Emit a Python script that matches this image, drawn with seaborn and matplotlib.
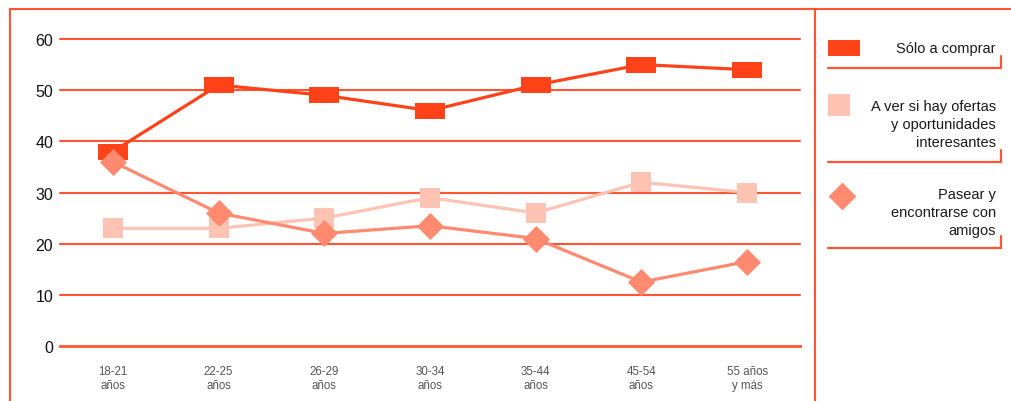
import matplotlib
matplotlib.use("Agg")
import matplotlib.pyplot as plt
import numpy as np
import pandas as pd
import seaborn as sns

# Age groups (two-line labels) and the share (%) giving each reason for the visit
age_groups = ["18-21\naños", "22-25\naños", "26-29\naños", "30-34\naños",
              "35-44\naños", "45-54\naños", "55 años\ny más"]
solo_comprar = [38, 51, 49, 46, 51, 55, 54]
ver_ofertas = [23, 23, 25, 29, 26, 32, 30]
pasear_amigos = [36, 26, 22, 23.5, 21, 12.5, 16.5]
series_names = ["Sólo a comprar",
                "A ver si hay ofertas\ny oportunidades\ninteresantes",
                "Pasear y\nencontrarse con\namigos"]
y_ticks = [0, 10, 20, 30, 40, 50, 60]

RED = "#FF5533"
C_SOLO = "#FF4218"
C_VER = "#FFC3B4"
C_PASEAR = "#FF8A70"

sns.set_style("white")
plt.rcParams["font.family"] = ["Liberation Sans", "DejaVu Sans"]

W, H = 1011, 402
fig = plt.figure(figsize=(W / 100, H / 100), dpi=100)
fig.patch.set_facecolor("white")

# main plotting area: x from 60 to 800 px, y=0 at 347 px, y=60 at 40 px
ax = fig.add_axes([60 / W, 1 - 347 / H, 740 / W, 307 / H])

df = pd.DataFrame({
    "grupo": np.arange(len(age_groups)),
    series_names[0]: solo_comprar,
    series_names[1]: ver_ofertas,
    series_names[2]: pasear_amigos,
})

rect_marker = [(-1, -0.53), (1, -0.53), (1, 0.53), (-1, 0.53), (-1, -0.53)]
diamond_marker = [(0, -1), (1, 0), (0, 1), (-1, 0), (0, -1)]

styles = [
    (series_names[0], C_SOLO, rect_marker, 21.5, 2.3, 3),
    (series_names[1], C_VER, "s", 15, 2.3, 4),
    (series_names[2], C_PASEAR, diamond_marker, 19.5, 2.3, 5),
]
for name, color, mk, ms, lw, z in styles:
    sns.lineplot(data=df, x="grupo", y=name, ax=ax, color=color, lw=lw,
                 marker=mk, markersize=ms, markeredgewidth=0,
                 markerfacecolor=color, zorder=z, clip_on=False,
                 solid_joinstyle="round")

ax.set_xlim(-0.5, len(age_groups) - 0.5)
ax.set_ylim(0, 60)
ax.set_xlabel("")
ax.set_ylabel("")

for v in y_ticks[1:]:
    ax.axhline(v, color=RED, lw=1.5, zorder=1, clip_on=False)

for side in ["left", "right", "top"]:
    ax.spines[side].set_visible(False)
ax.spines["bottom"].set_color(RED)
ax.spines["bottom"].set_linewidth(2)

ax.set_yticks(y_ticks)
ax.set_yticklabels([str(v) for v in y_ticks], fontsize=11.5, color="#111111")
ax.tick_params(axis="y", length=0, pad=5)

ax.set_xticks(np.arange(-0.5, len(age_groups)), labels=[""] * (len(age_groups) + 1))
ax.tick_params(axis="x", which="major", direction="out", length=6,
               width=1.5, color=RED)
ax.set_xticks(np.arange(len(age_groups)), minor=True)
ax.set_xticklabels(age_groups, minor=True, fontsize=8.3, color="#555555",
                   linespacing=1.2)
ax.tick_params(axis="x", which="minor", length=0, pad=14)

# frame and legend panel, drawn in pixel coordinates
ov = fig.add_axes([0, 0, 1, 1], zorder=-1)
ov.set_xlim(0, W)
ov.set_ylim(H, 0)
ov.axis("off")
ov.plot([10, W], [10, 10], color=RED, lw=1.5)
ov.plot([10, 10], [10, H], color=RED, lw=1.5)
ov.plot([815, 815], [10, H], color=RED, lw=1.5)

leg = fig.add_axes([0, 0, 1, 1], zorder=5)
leg.set_xlim(0, W)
leg.set_ylim(H, 0)
leg.axis("off")
leg.patch.set_alpha(0)

entries = [
    (series_names[0], C_SOLO, rect_marker, 23, 844, 49, [49], 69),
    (series_names[1], C_VER, "s", 15.5, 839, 106, [107, 125, 143], 163),
    (series_names[2], C_PASEAR, diamond_marker, 20, 842, 197, [195, 213, 231], 249),
]
for name, color, mk, ms, mx, my, text_ys, uy in entries:
    leg.plot([mx], [my], marker=mk, markersize=ms, color=color,
             markeredgewidth=0, linestyle="none")
    for line, ty in zip(name.split("\n"), text_ys):
        leg.text(996, ty, line, ha="right", va="center", fontsize=10.5,
                 color="#1a1a1a")
    leg.plot([828, 1001, 1001], [uy, uy, uy - 12], color=RED, lw=1.6,
             solid_joinstyle="miter")

fig.savefig("out.png", dpi=100, facecolor="white")
